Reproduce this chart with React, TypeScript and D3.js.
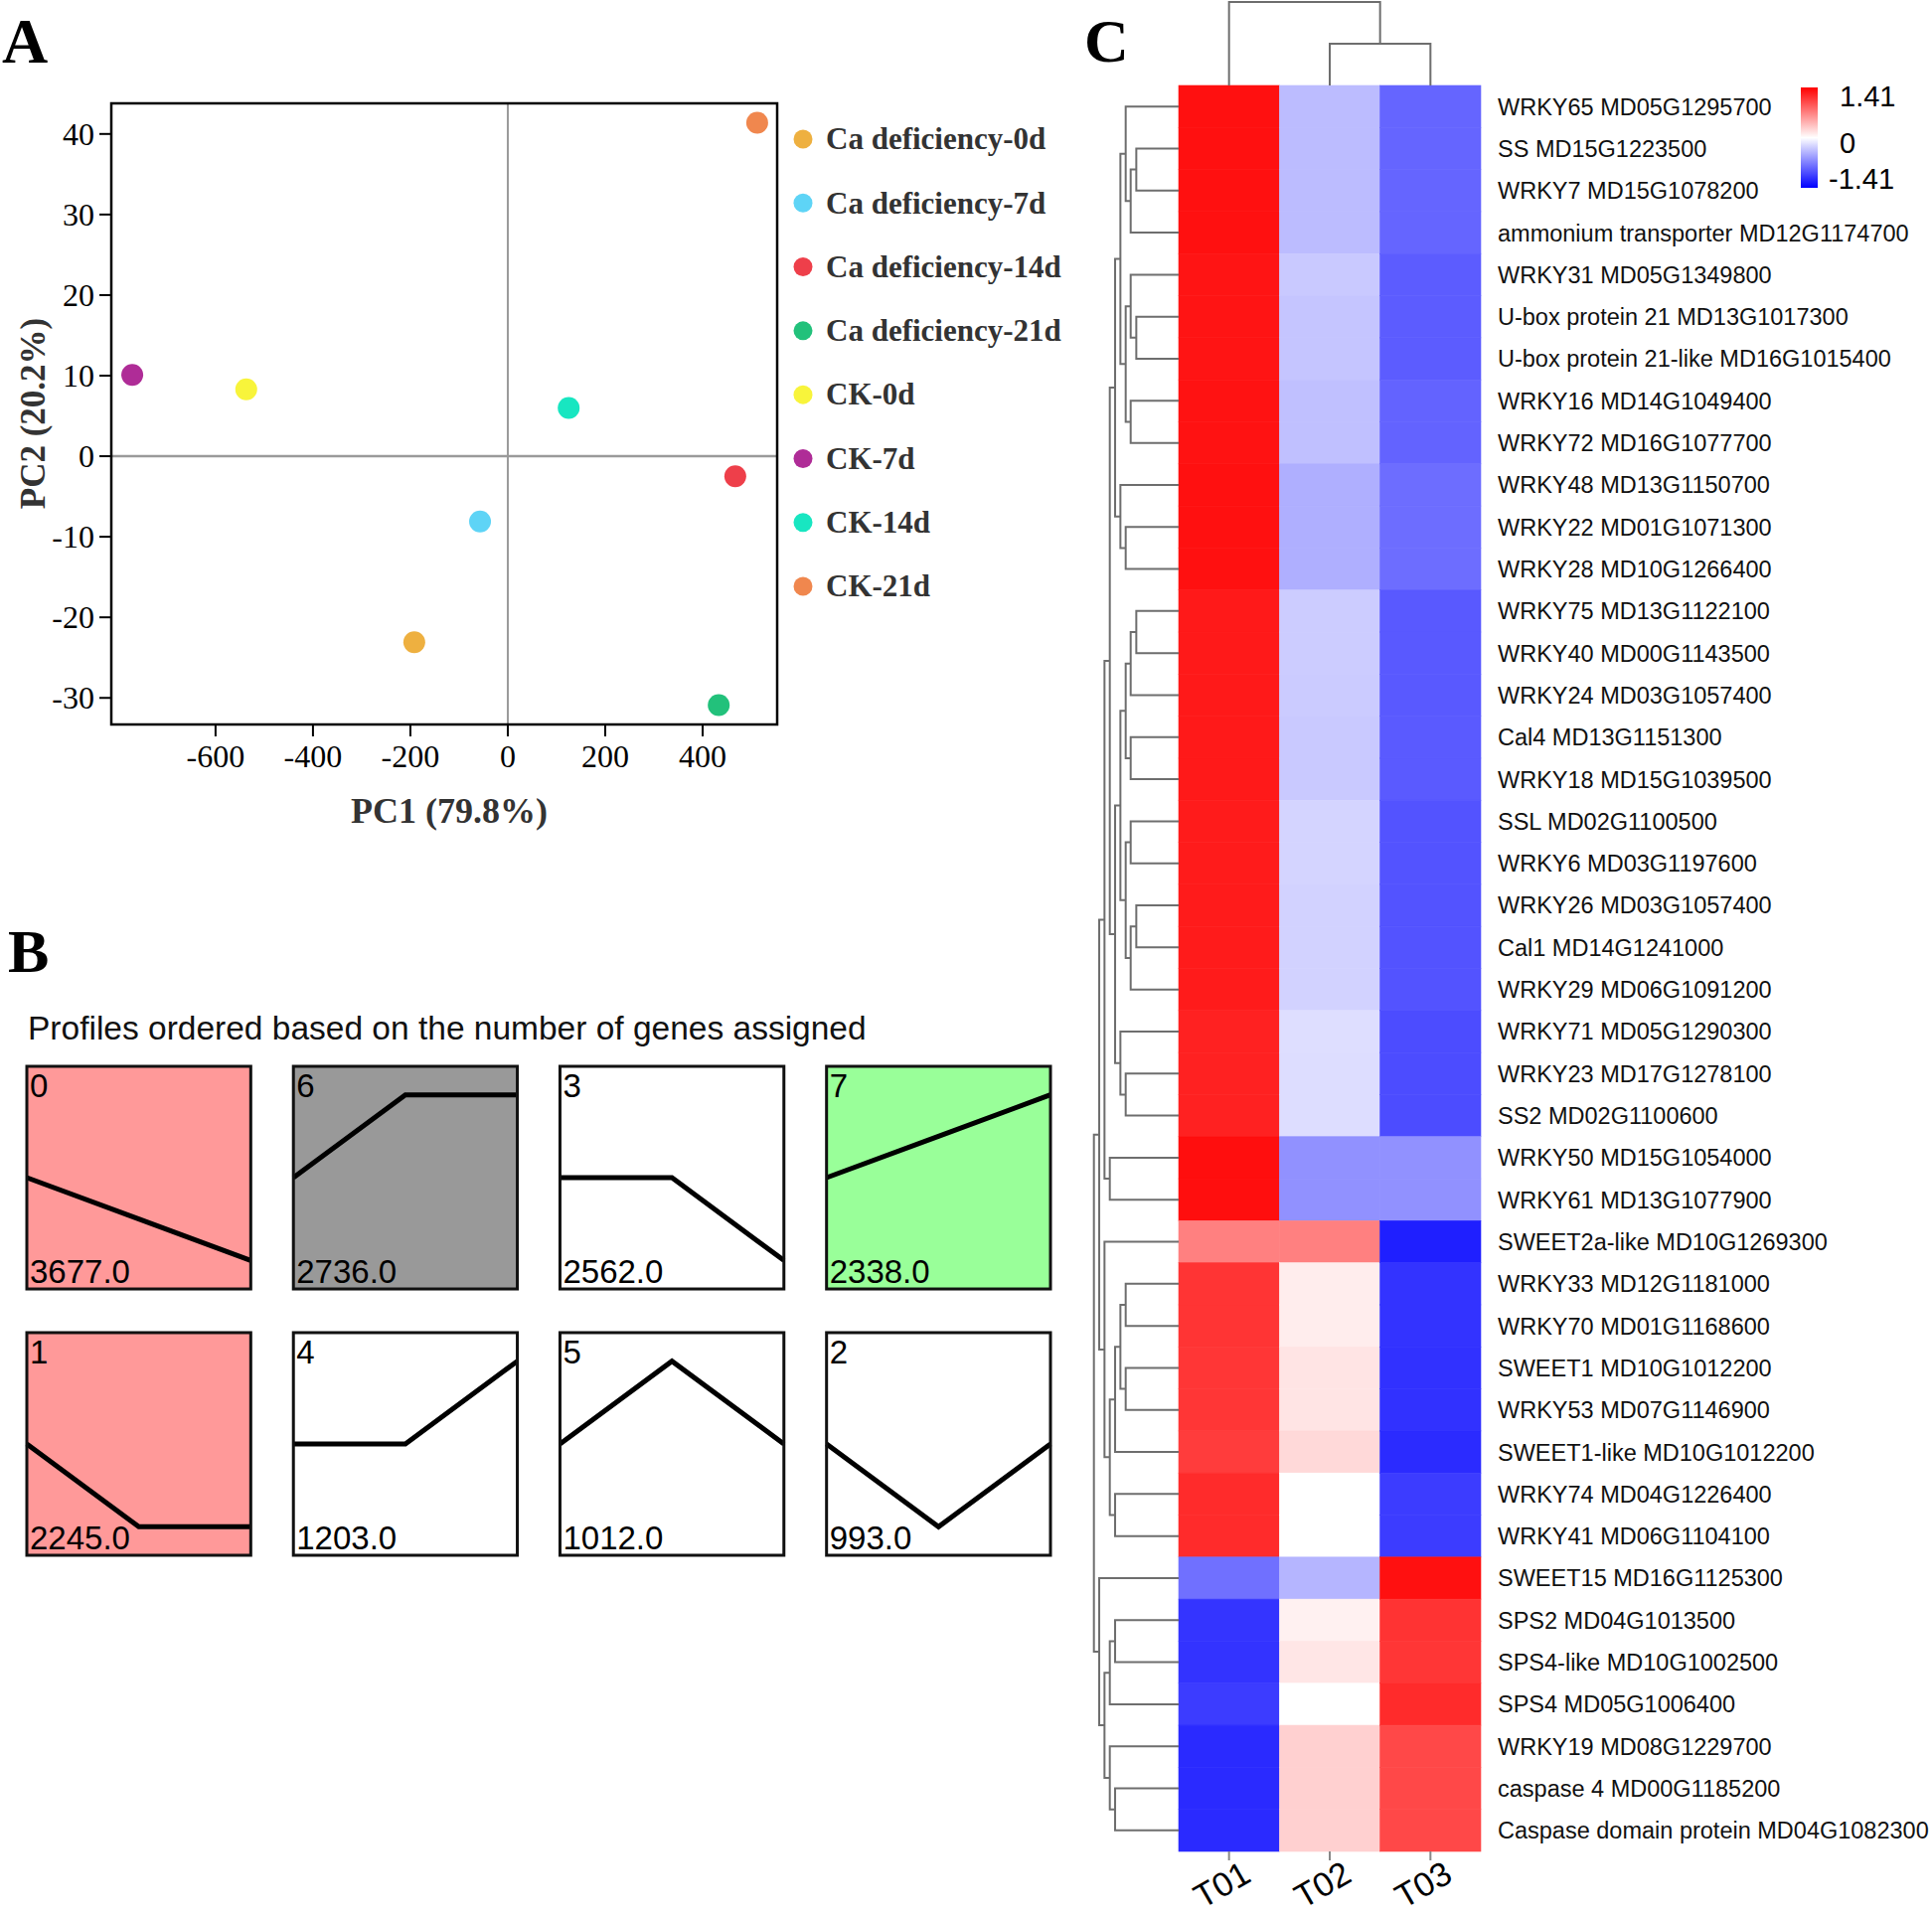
import React from "react";
import * as d3 from "d3";

const W = 1944;
const H = 1931;
const SERIF = "'Liberation Serif', 'Times New Roman', serif";
const SANS = "'Liberation Sans', Arial, sans-serif";

// ---------------- Panel A: PCA ----------------
const pcaGroups = [
  "Ca deficiency-0d",
  "Ca deficiency-7d",
  "Ca deficiency-14d",
  "Ca deficiency-21d",
  "CK-0d",
  "CK-7d",
  "CK-14d",
  "CK-21d",
];
const pcaColors = ["#EEB040", "#5ED4F6", "#EE3F4A", "#22C17B", "#F8F43B", "#AF2C97", "#18E6C1", "#F0874E"];
const pc1 = [-192, -57, 467, 433, -537, -771, 125, 512];
const pc2 = [-23.1, -8.1, -2.5, -30.9, 8.3, 10.1, 6.0, 41.4];
const pc1Ticks = [-600, -400, -200, 0, 200, 400];
const pc2Ticks = [-30, -20, -10, 0, 10, 20, 30, 40];
const pc1Domain = [-814, 553];
const pc2Domain = [-33.3, 43.8];

// ---------------- Panel B: STEM profiles ----------------
const profileIds = ["0", "6", "3", "7", "1", "4", "5", "2"];
const profileCounts = ["3677.0", "2736.0", "2562.0", "2338.0", "2245.0", "1203.0", "1012.0", "993.0"];
const profileShapes = [
  [0, -0.5, -1],
  [0, 1, 1],
  [0, 0, -1],
  [0, 0.5, 1],
  [0, -1, -1],
  [0, 0, 1],
  [0, 1, 0],
  [0, -1, 0],
];
const profileFills = ["#FF9999", "#999999", "#FFFFFF", "#99FF99", "#FF9999", "#FFFFFF", "#FFFFFF", "#FFFFFF"];

// ---------------- Panel C: heatmap ----------------
const heatCols = ["T01", "T02", "T03"];
const geneLabels = [
  "WRKY65 MD05G1295700",
  "SS MD15G1223500",
  "WRKY7 MD15G1078200",
  "ammonium transporter MD12G1174700",
  "WRKY31 MD05G1349800",
  "U-box protein 21 MD13G1017300",
  "U-box protein 21-like MD16G1015400",
  "WRKY16 MD14G1049400",
  "WRKY72 MD16G1077700",
  "WRKY48 MD13G1150700",
  "WRKY22 MD01G1071300",
  "WRKY28 MD10G1266400",
  "WRKY75 MD13G1122100",
  "WRKY40 MD00G1143500",
  "WRKY24 MD03G1057400",
  "Cal4 MD13G1151300",
  "WRKY18 MD15G1039500",
  "SSL MD02G1100500",
  "WRKY6 MD03G1197600",
  "WRKY26 MD03G1057400",
  "Cal1 MD14G1241000",
  "WRKY29 MD06G1091200",
  "WRKY71 MD05G1290300",
  "WRKY23 MD17G1278100",
  "SS2 MD02G1100600",
  "WRKY50 MD15G1054000",
  "WRKY61 MD13G1077900",
  "SWEET2a-like MD10G1269300",
  "WRKY33 MD12G1181000",
  "WRKY70 MD01G1168600",
  "SWEET1 MD10G1012200",
  "WRKY53 MD07G1146900",
  "SWEET1-like MD10G1012200",
  "WRKY74 MD04G1226400",
  "WRKY41 MD06G1104100",
  "SWEET15 MD16G1125300",
  "SPS2 MD04G1013500",
  "SPS4-like MD10G1002500",
  "SPS4 MD05G1006400",
  "WRKY19 MD08G1229700",
  "caspase 4 MD00G1185200",
  "Caspase domain protein MD04G1082300",
];
const valT01 = [
  1.32, 1.32, 1.32, 1.32, 1.3, 1.3, 1.3, 1.31, 1.31, 1.32, 1.32, 1.32, 1.27, 1.27, 1.27, 1.27, 1.27, 1.26, 1.26,
  1.26, 1.26, 1.26, 1.23, 1.23, 1.23, 1.33, 1.33, 0.7, 1.12, 1.12, 1.11, 1.11, 1.08, 1.17, 1.17, -0.79, -1.12,
  -1.13, -1.08, -1.18, -1.18, -1.18,
];
const valT02 = [
  -0.37, -0.37, -0.37, -0.37, -0.3, -0.32, -0.32, -0.35, -0.35, -0.44, -0.44, -0.44, -0.28, -0.28, -0.29, -0.3,
  -0.3, -0.24, -0.24, -0.25, -0.25, -0.25, -0.18, -0.19, -0.19, -0.61, -0.61, 0.7, 0.1, 0.1, 0.15, 0.15, 0.21, 0.0,
  0.0, -0.41, 0.08, 0.14, 0.0, 0.26, 0.26, 0.26,
];
const valT03 = [
  -0.85, -0.85, -0.85, -0.85, -0.9, -0.9, -0.9, -0.86, -0.86, -0.81, -0.81, -0.81, -0.92, -0.92, -0.92, -0.91,
  -0.91, -0.95, -0.95, -0.95, -0.95, -0.95, -0.99, -0.99, -0.99, -0.61, -0.61, -1.24, -1.13, -1.13, -1.14, -1.14,
  -1.17, -1.08, -1.08, 1.32, 1.13, 1.11, 1.17, 1.01, 1.01, 1.01,
];
const legendTicks = [1.41, 0, -1.41];

// hclust-style merge tables: negative = leaf (-(index+1)), positive = earlier merge (1-based), then height
const rowMerges: [number, number, number][] = [
  [-2, -3, 0.8],
  [1, -4, 0.906],
  [-1, 2, 1.0],
  [-6, -7, 0.8],
  [-5, 4, 0.906],
  [-8, -9, 0.906],
  [5, 6, 1.0],
  [3, 7, 1.1],
  [-11, -12, 1.0],
  [-10, 9, 1.1],
  [8, 10, 1.2],
  [-13, -14, 0.8],
  [12, -15, 0.906],
  [-16, -17, 0.906],
  [13, 14, 1.0],
  [-18, -19, 0.906],
  [-20, -21, 0.8],
  [17, -22, 0.906],
  [16, 18, 1.0],
  [15, 19, 1.1],
  [-24, -25, 1.0],
  [-23, 21, 1.1],
  [20, 22, 1.2],
  [11, 23, 1.3],
  [-26, -27, 1.3],
  [24, 25, 1.4],
  [-29, -30, 1.0],
  [-31, -32, 1.0],
  [27, 28, 1.1],
  [29, -33, 1.2],
  [-34, -35, 1.2],
  [30, 31, 1.3],
  [-28, 32, 1.4],
  [26, 33, 1.5],
  [-37, -38, 1.2],
  [35, -39, 1.3],
  [-41, -42, 1.2],
  [-40, 37, 1.3],
  [36, 38, 1.4],
  [-36, 39, 1.5],
  [34, 40, 1.6],
];
const colMerges: [number, number, number][] = [
  [-2, -3, 1.0],
  [-1, 1, 2.0],
];

function dendroPaths(
  merges: [number, number, number][],
  leafPos: (i: number) => number,
  hPos: (h: number) => number,
  horizontal: boolean
): string[] {
  const pos: number[] = [];
  const hp: number[] = [];
  const paths: string[] = [];
  const get = (ref: number) =>
    ref < 0 ? { p: leafPos(-ref - 1), h: hPos(0) } : { p: pos[ref - 1], h: hp[ref - 1] };
  merges.forEach(([a, b, h]) => {
    const A = get(a);
    const B = get(b);
    const hh = hPos(h);
    if (horizontal) {
      paths.push(`M${A.h},${A.p}H${hh}V${B.p}H${B.h}`);
    } else {
      paths.push(`M${A.p},${A.h}V${hh}H${B.p}V${B.h}`);
    }
    pos.push((A.p + B.p) / 2);
    hp.push(hh);
  });
  return paths;
}

export default function App() {
  // ----- Panel A scales
  const ax = d3.scaleLinear().domain(pc1Domain).range([112, 782]);
  const ay = d3.scaleLinear().domain(pc2Domain).range([729, 104]);
  const legY = d3.scaleLinear().domain([0, 7]).range([140, 590]);

  // ----- Panel B scales
  const bx = d3.scaleBand<number>().domain([0, 1, 2, 3]).range([27, 1057]).paddingInner(0.16);
  const by = d3.scaleBand<number>().domain([0, 1]).range([1073, 1565]).paddingInner(0.164);
  const tFrac = d3.scaleLinear().domain([0, 2]).range([0, 1]);

  // ----- Panel C scales
  const hx = d3.scaleBand<string>().domain(heatCols).range([1186, 1490]);
  const hy = d3.scaleBand<number>().domain(d3.range(geneLabels.length)).range([86, 1863]);
  const color = d3.scaleLinear<string>().domain([-1.41, 0, 1.41]).range(["#0000FF", "#FFFFFF", "#FF0000"]).clamp(true);
  const rowH = d3.scaleLinear().domain([0, 1.6]).range([1186, 1100.7]);
  const colH = d3.scaleLinear().domain([0, 2]).range([86, 2]);
  const legScale = d3.scaleLinear().domain([1.41, 0, -1.41]).range([97, 144, 180]);
  const values = [valT01, valT02, valT03];

  const rowPaths = dendroPaths(rowMerges, (i) => (hy(i) as number) + hy.bandwidth() / 2, rowH, true);
  const colPaths = dendroPaths(colMerges, (i) => (hx(heatCols[i]) as number) + hx.bandwidth() / 2, colH, false);

  return (
    <svg
      width={W}
      height={H}
      viewBox={`0 0 ${W} ${H}`}
      style={{ position: "absolute", left: 0, top: 0, background: "#fff" }}
    >
      <rect x={0} y={0} width={W} height={H} fill="#fff" />
      {/* Panel letters */}
      <text x={2} y={63} fontFamily={SERIF} fontWeight="bold" fontSize={64}>A</text>
      <text x={8} y={978} fontFamily={SERIF} fontWeight="bold" fontSize={62}>B</text>
      <text x={1091} y={62} fontFamily={SERIF} fontWeight="bold" fontSize={62}>C</text>

      {/* ===== Panel A ===== */}
      <g>
        <line x1={ax(0)} x2={ax(0)} y1={104} y2={729} stroke="#9a9a9a" strokeWidth={2} />
        <line x1={112} x2={782} y1={ay(0)} y2={ay(0)} stroke="#9a9a9a" strokeWidth={2.5} />
        <rect x={112} y={104} width={670} height={625} fill="none" stroke="#000" strokeWidth={2.5} />
        {pc2Ticks.map((t) => (
          <g key={"y" + t}>
            <line x1={100} x2={112} y1={ay(t)} y2={ay(t)} stroke="#000" strokeWidth={2} />
            <text x={95} y={ay(t)} dy="0.34em" textAnchor="end" fontFamily={SERIF} fontSize={32}>
              {t}
            </text>
          </g>
        ))}
        {pc1Ticks.map((t) => (
          <g key={"x" + t}>
            <line x1={ax(t)} x2={ax(t)} y1={729} y2={741} stroke="#000" strokeWidth={2} />
            <text x={ax(t)} y={772} textAnchor="middle" fontFamily={SERIF} fontSize={32}>
              {t}
            </text>
          </g>
        ))}
        <text x={452} y={828} textAnchor="middle" fontFamily={SERIF} fontWeight="bold" fontSize={36} fill="#333">
          PC1 (79.8%)
        </text>
        <text
          transform={`translate(45,416) rotate(-90)`}
          textAnchor="middle"
          fontFamily={SERIF}
          fontWeight="bold"
          fontSize={35}
          fill="#333"
        >
          PC2 (20.2%)
        </text>
        {pc1.map((v, i) => (
          <circle key={"p" + i} cx={ax(v)} cy={ay(pc2[i])} r={11} fill={pcaColors[i]} />
        ))}
        {pcaGroups.map((g, i) => (
          <g key={"l" + i}>
            <circle cx={808} cy={legY(i)} r={9.5} fill={pcaColors[i]} />
            <text x={831} y={legY(i)} dy="0.33em" fontFamily={SERIF} fontWeight="bold" fontSize={31} fill="#333">
              {g}
            </text>
          </g>
        ))}
      </g>

      {/* ===== Panel B ===== */}
      <g>
        <text x={28} y={1046} fontFamily={SANS} fontSize={33.5} fill="#111">
          Profiles ordered based on the number of genes assigned
        </text>
        {profileIds.map((id, k) => {
          const col = k % 4;
          const row = Math.floor(k / 4);
          const x0 = bx(col) as number;
          const y0 = by(row) as number;
          const w = bx.bandwidth();
          const h = by.bandwidth();
          const vy = d3.scaleLinear().domain([-1.344, 1.344]).range([y0 + h, y0]);
          const line = d3
            .line<number>()
            .x((_, j) => x0 + tFrac(j) * w)
            .y((v) => vy(v));
          return (
            <g key={"b" + k}>
              <rect x={x0} y={y0} width={w} height={h} fill={profileFills[k]} stroke="none" />
              <path d={line(profileShapes[k]) || ""} fill="none" stroke="#000" strokeWidth={5} />
              <rect x={x0} y={y0} width={w} height={h} fill="none" stroke="#111" strokeWidth={3} />
              <text x={x0 + 3} y={y0 + 31} fontFamily={SANS} fontSize={33} fill="#000">
                {id}
              </text>
              <text x={x0 + 3} y={y0 + h - 6} fontFamily={SANS} fontSize={33} fill="#000">
                {profileCounts[k]}
              </text>
            </g>
          );
        })}
      </g>

      {/* ===== Panel C ===== */}
      <g>
        {values.map((arr, c) =>
          arr.map((v, r) => (
            <rect
              key={`c${c}-${r}`}
              x={hx(heatCols[c])}
              y={hy(r)}
              width={hx.bandwidth()}
              height={hy.bandwidth()}
              fill={color(v)}
              stroke={color(v)}
              strokeWidth={0.6}
            />
          ))
        )}
        {rowPaths.map((d, i) => (
          <path key={"rd" + i} d={d} fill="none" stroke="#6e6e6e" strokeWidth={2} />
        ))}
        {colPaths.map((d, i) => (
          <path key={"cd" + i} d={d} fill="none" stroke="#6e6e6e" strokeWidth={2} />
        ))}
        {geneLabels.map((g, r) => (
          <text
            key={"g" + r}
            x={1507}
            y={(hy(r) as number) + hy.bandwidth() / 2}
            dy="0.36em"
            fontFamily={SANS}
            fontSize={23.5}
            fill="#111"
          >
            {g}
          </text>
        ))}
        {heatCols.map((c) => {
          const cx = (hx(c) as number) + hx.bandwidth() / 2;
          return (
            <g key={"t" + c}>
              <line x1={cx} x2={cx} y1={1863} y2={1872} stroke="#888" strokeWidth={2} />
              <text
                transform={`translate(${cx + 24},1892) rotate(-30)`}
                textAnchor="end"
                fontFamily={SANS}
                fontSize={34}
                fill="#000"
              >
                {c}
              </text>
            </g>
          );
        })}
        <defs>
          <linearGradient id="heatLegend" x1="0" x2="0" y1="0" y2="1">
            <stop offset="0" stopColor="#FF0000" />
            <stop offset="0.5" stopColor="#FFFFFF" />
            <stop offset="1" stopColor="#0000FF" />
          </linearGradient>
        </defs>
        <rect x={1812} y={88} width={17} height={101} fill="url(#heatLegend)" />
        {legendTicks.map((t) => (
          <text
            key={"lt" + t}
            x={t < 0 ? 1840 : 1851}
            y={legScale(t)}
            dy="0.36em"
            fontFamily={SANS}
            fontSize={29}
            fill="#000"
          >
            {t === 0 ? "0" : t.toFixed(2)}
          </text>
        ))}
      </g>
    </svg>
  );
}
